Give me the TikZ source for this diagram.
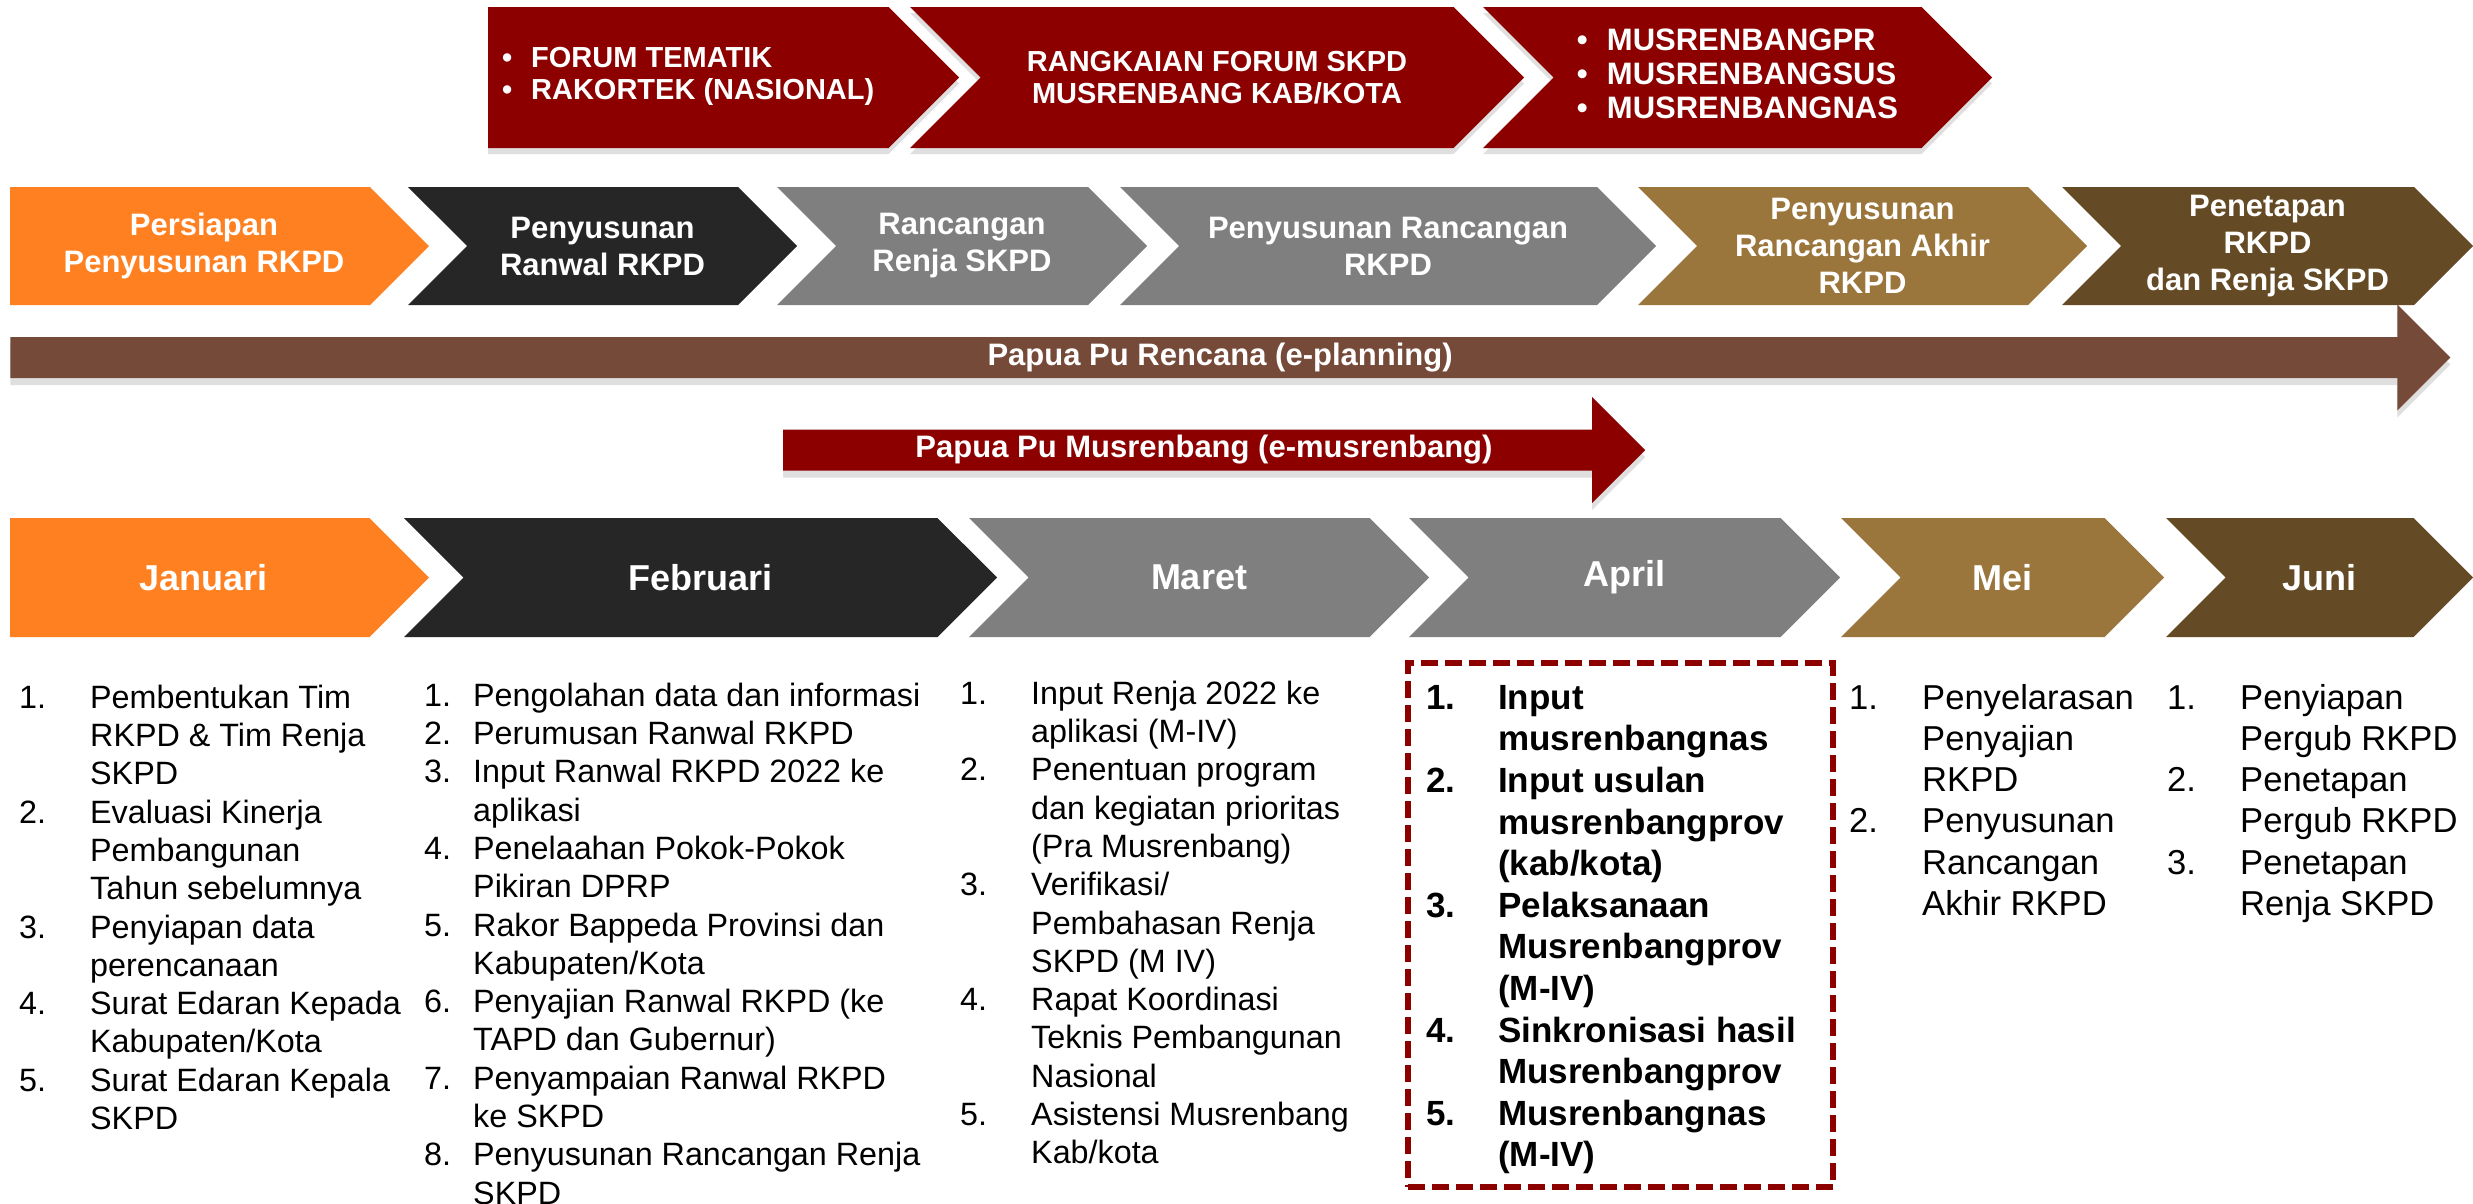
\documentclass[tikz,border=0pt]{standalone}
\usepackage{fontspec}
\setmainfont{Liberation Sans}
\usetikzlibrary{shapes.symbols, shapes.arrows, fit, shadows}

\definecolor{janorange}{HTML}{FF8020}
\definecolor{febblack}{HTML}{262626}
\definecolor{margrey}{HTML}{7F7F7F}
\definecolor{meigold}{HTML}{9B763C}
\definecolor{junbrown}{HTML}{654B25}
\definecolor{planbrown}{HTML}{764A39}
\definecolor{forumred}{HTML}{8C0000}

\begin{document}
\begin{tikzpicture}[
	x=1pt, y=-1pt,
	phase/.style={
		signal, signal to=east, signal from=west, signal pointer angle=90,
		inner sep=0pt, text=white, align=center
	},
	forum/.style={
		phase, fill=forumred, minimum height=141pt,
		font=\bfseries\fontsize{29}{32}\selectfont,
		drop shadow={shadow xshift=0pt, shadow yshift=-6pt, opacity=0.25}
	},
	stage/.style={phase, minimum height=118pt, font=\bfseries\fontsize{31}{37}\selectfont},
	month/.style={phase, minimum height=119pt, font=\bfseries\fontsize{36}{40}\selectfont},
	sysarrow/.style={
		single arrow, single arrow tip angle=90, single arrow head extend=26.5pt,
		minimum width=106pt, inner sep=2pt, anchor=west, text=white,
		font=\bfseries\fontsize{31}{37}\selectfont,
		drop shadow={shadow xshift=0pt, shadow yshift=-7pt, opacity=0.25}
	},
	tasks/.style={anchor=north west, inner sep=0pt, font=\fontsize{32.3}{38.3}\selectfont},
	aprtasks/.style={tasks, font=\bfseries\fontsize{35}{41.6}\selectfont},
	latetasks/.style={tasks, font=\fontsize{34.6}{41.2}\selectfont},
	hibox/.style={draw=forumred, line width=6pt, dash pattern=on 17pt off 7pt}
	]
	\useasboundingbox (0,0) rectangle (2473,1203);

	% Forum / musrenbang stages
	\node[forum, signal from=nowhere, minimum width=471pt] (forum1) at (688.25,77.5)
		{\begin{tabular}{@{}p{29pt}@{}l@{}}
			\textbullet & FORUM TEMATIK\\
			\textbullet & RAKORTEK (NASIONAL)
		\end{tabular}};
	\node[forum, minimum width=614pt] (forum2) at (1217,77.5)
		{RANGKAIAN FORUM SKPD\\MUSRENBANG KAB/KOTA};
	\node[forum, minimum width=509pt, font=\bfseries\fontsize{31}{34}\selectfont] (forum3) at (1737.5,77.5)
		{\begin{tabular}{@{}p{30pt}@{}l@{}}
			\textbullet & MUSRENBANGPR\\
			\textbullet & MUSRENBANGSUS\\
			\textbullet & MUSRENBANGNAS
		\end{tabular}};

	% Document stages
	\node[stage, fill=janorange, signal from=nowhere, minimum width=419pt] (persiapan) at (190,246)
		{\hspace*{28pt}Persiapan\\\hspace*{28pt}Penyusunan RKPD};
	\node[stage, fill=febblack, minimum width=389pt] (ranwal) at (602.5,246)
		{Penyusunan\\Ranwal RKPD};
	\node[stage, fill=margrey, minimum width=370pt] (renja) at (962,246)
		{Rancangan\\Renja SKPD};
	\node[stage, fill=margrey, minimum width=536pt] (rancangan) at (1388,246)
		{Penyusunan Rancangan\\RKPD};
	\node[stage, fill=meigold, minimum width=449pt] (akhir) at (1862.5,246)
		{Penyusunan\\Rancangan Akhir\\RKPD};
	\node[stage, fill=junbrown, minimum width=411pt] (penetapan) at (2267.5,246)
		{Penetapan\\RKPD\\dan Renja SKPD};

	% Applications
	\node[sysarrow, fill=planbrown, minimum height=2440pt] (eplanning) at (10,357.5)
		{Papua Pu Rencana (e-planning)};
	\node[sysarrow, fill=forumred, minimum height=862pt] (emusrenbang) at (783,450)
		{Papua Pu Musrenbang (e-musrenbang)};

	% Months
	\node[month, fill=janorange, signal from=nowhere, minimum width=419pt] (jan) at (189.75,577.5) {\hspace*{28pt}Januari};
	\node[month, fill=febblack, minimum width=593pt] (feb) at (700.5,577.5) {Februari};
	\node[month, fill=margrey, minimum width=460pt] (mar) at (1199,577.5) {Maret};
	\node[month, fill=margrey, minimum width=431pt] (apr) at (1624.5,577.5) {April};
	\node[month, fill=meigold, minimum width=323pt] (mei) at (2002.5,577.5) {Mei};
	\node[month, fill=junbrown, minimum width=307pt] (jun) at (2319.5,577.5) {Juni};

	% Activities per month
	\node[tasks] (jantasks) at (19,681.2) {\begin{tabular}{@{}p{71pt}@{}l@{}}
		1. & Pembentukan Tim\\
		   & RKPD \& Tim Renja\\
		   & SKPD\\
		2. & Evaluasi Kinerja\\
		   & Pembangunan\\
		   & Tahun sebelumnya\\
		3. & Penyiapan data\\
		   & perencanaan\\
		4. & Surat Edaran Kepada\\
		   & Kabupaten/Kota\\
		5. & Surat Edaran Kepala\\
		   & SKPD
	\end{tabular}};
	\node[tasks] (febtasks) at (424,679.2) {\begin{tabular}{@{}p{49pt}@{}l@{}}
		1. & Pengolahan data dan informasi\\
		2. & Perumusan Ranwal RKPD\\
		3. & Input Ranwal RKPD 2022 ke\\
		   & aplikasi\\
		4. & Penelaahan Pokok-Pokok\\
		   & Pikiran DPRP\\
		5. & Rakor Bappeda Provinsi dan\\
		   & Kabupaten/Kota\\
		6. & Penyajian Ranwal RKPD (ke\\
		   & TAPD dan Gubernur)\\
		7. & Penyampaian Ranwal RKPD\\
		   & ke SKPD\\
		8. & Penyusunan Rancangan Renja\\
		   & SKPD
	\end{tabular}};
	\node[tasks] (martasks) at (960,677.2) {\begin{tabular}{@{}p{71pt}@{}l@{}}
		1. & Input Renja 2022 ke\\
		   & aplikasi (M-IV)\\
		2. & Penentuan program\\
		   & dan kegiatan prioritas\\
		   & (Pra Musrenbang)\\
		3. & Verifikasi/\\
		   & Pembahasan Renja\\
		   & SKPD (M IV)\\
		4. & Rapat Koordinasi\\
		   & Teknis Pembangunan\\
		   & Nasional\\
		5. & Asistensi Musrenbang\\
		   & Kab/kota
	\end{tabular}};
	\node[aprtasks] (aprtasks) at (1426,679.9) {\begin{tabular}{@{}p{72pt}@{}p{317pt}@{}}
		1. & Input\\
		   & musrenbangnas\\
		2. & Input usulan\\
		   & musrenbangprov\\
		   & (kab/kota)\\
		3. & Pelaksanaan\\
		   & Musrenbangprov\\
		   & (M-IV)\\
		4. & Sinkronisasi hasil\\
		   & Musrenbangprov\\
		5. & Musrenbangnas\\
		   & (M-IV)
	\end{tabular}};
	\node[hibox, fit=(aprtasks), inner xsep=18pt, inner ysep=12pt, yshift=5pt] (aprbox) {};
	\node[latetasks] (meitasks) at (1849,680.2) {\begin{tabular}{@{}p{73pt}@{}l@{}}
		1. & Penyelarasan\\
		   & Penyajian\\
		   & RKPD\\
		2. & Penyusunan\\
		   & Rancangan\\
		   & Akhir RKPD
	\end{tabular}};
	\node[latetasks] (juntasks) at (2167,680.2) {\begin{tabular}{@{}p{73pt}@{}l@{}}
		1. & Penyiapan\\
		   & Pergub RKPD\\
		2. & Penetapan\\
		   & Pergub RKPD\\
		3. & Penetapan\\
		   & Renja SKPD
	\end{tabular}};

\end{tikzpicture}
\end{document}
